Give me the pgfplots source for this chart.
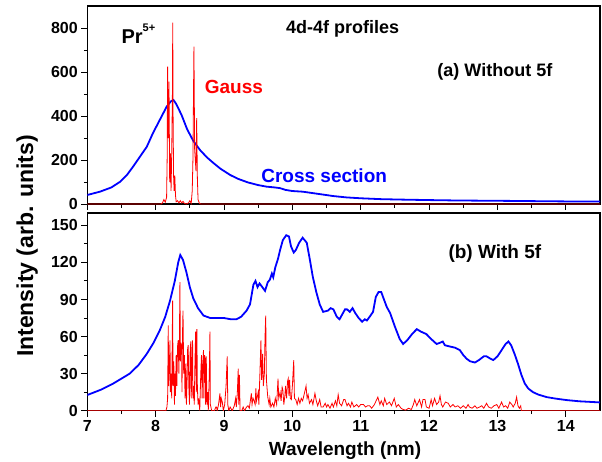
\documentclass[border=0pt]{standalone}
\usepackage{fontspec}
\setmainfont{Liberation Sans}
\usepackage{pgfplots}
\pgfplotsset{compat=1.18}

\definecolor{cblue}{RGB}{0,0,255}
\definecolor{cred}{RGB}{255,0,0}

\pgfplotsset{
  panel/.style={
    scale only axis,
    width=512.7pt,
    xmin=7, xmax=14.5,
    xtick={7,...,14}, minor x tick num=1, minor y tick num=1,
    tick align=outside, xtick pos=left, ytick pos=left,
    axis line style={line width=1.1pt},
    major tick length=6pt, minor tick length=3.5pt,
    every tick/.style={black, line width=1pt},
    tick label style={font=\fontsize{16}{18}\selectfont\bfseries},
    /pgf/number format/assume math mode=true,
  },
  cs/.style={cblue, line width=1.8pt},
  gs/.style={cred, line width=0.8pt},
}

\begin{document}
\begin{tikzpicture}
% (b) with 5f
\begin{axis}[panel, height=197.7pt, ymin=0, ymax=160, ytick={0,30,...,150}]
\addplot[cs] coordinates {
(7.0,12.7) (7.2,17) (7.38,22) (7.5,26) (7.62,30) (7.75,37) (7.87,46) (7.97,55)
(8.06,65) (8.14,76) (8.21,89) (8.28,105) (8.33,120) (8.36,126) (8.40,122)
(8.45,112) (8.50,100) (8.55,91) (8.62,83) (8.70,77) (8.80,75) (8.90,75)
(9.0,75) (9.10,74) (9.18,74) (9.25,76) (9.33,81) (9.38,86) (9.43,102)
(9.46,105) (9.49,100) (9.52,103) (9.56,100) (9.60,97) (9.64,104) (9.67,106)
(9.70,111) (9.72,108) (9.75,116) (9.79,123) (9.82,130) (9.86,138) (9.91,142)
(9.95,141) (9.98,133) (10.02,128) (10.05,130) (10.10,136) (10.15,140)
(10.18,138) (10.21,136) (10.25,124) (10.30,108) (10.35,96) (10.40,86)
(10.45,80) (10.52,81) (10.56,83) (10.60,82) (10.65,76) (10.69,74) (10.73,78)
(10.77,82) (10.80,82) (10.84,80) (10.88,83) (10.92,79) (10.97,75) (11.02,72)
(11.06,74) (11.09,73) (11.13,76) (11.18,80) (11.22,92) (11.26,96) (11.30,96)
(11.34,90) (11.38,84) (11.43,79) (11.50,68) (11.57,58) (11.62,54) (11.68,57)
(11.75,62) (11.82,66) (11.88,64) (11.96,62) (12.03,58) (12.11,54) (12.16,55)
(12.20,56) (12.23,53) (12.30,52) (12.38,51) (12.45,49) (12.50,45) (12.55,42)
(12.60,40) (12.67,39) (12.73,41) (12.80,44) (12.84,44) (12.90,42) (12.94,41)
(13.0,44) (13.06,49) (13.12,54) (13.16,56) (13.20,53) (13.25,46) (13.30,38)
(13.35,29) (13.40,22) (13.45,18) (13.52,15) (13.60,13) (13.72,11) (13.85,9.8)
(14.01,8.6) (14.2,7.6) (14.47,6.8) (14.5,6.7)
};
\addplot[gs] coordinates {
(7.0,0) (8.15,0) (8.165,3) (8.175,10) (8.184,69) (8.19,20) (8.20,35) (8.21,57)
(8.215,15) (8.225,30) (8.235,10) (8.248,89) (8.255,20) (8.265,40) (8.275,5)
(8.28,30) (8.29,12) (8.30,45) (8.31,20) (8.32,52) (8.33,57) (8.34,30)
(8.348,60) (8.355,104) (8.362,40) (8.37,55) (8.38,49) (8.385,15) (8.392,60)
(8.40,81) (8.41,30) (8.42,45) (8.43,10) (8.44,38) (8.45,5) (8.46,25)
(8.468,50) (8.476,53) (8.485,20) (8.495,5) (8.505,50) (8.515,56) (8.52,10)
(8.53,35) (8.54,57) (8.545,10) (8.555,20) (8.565,5) (8.575,40) (8.585,64)
(8.595,15) (8.603,66) (8.61,20) (8.62,5) (8.63,10) (8.645,0) (8.66,30)
(8.67,45) (8.68,10) (8.69,40) (8.70,49) (8.705,10) (8.715,45) (8.725,42)
(8.73,5) (8.74,44) (8.75,5) (8.76,15) (8.77,0) (8.785,30) (8.794,64) (8.80,5)
(8.82,0) (8.86,0) (8.88,3) (8.89,3) (8.90,0) (8.92,5) (8.94,14) (8.95,3)
(8.96,10) (8.975,7) (8.99,0) (9.01,5) (9.03,20) (9.047,44) (9.055,5) (9.07,0)
(9.09,3) (9.12,0) (9.15,4) (9.17,10) (9.18,3) (9.195,15) (9.208,34) (9.215,5)
(9.225,29) (9.235,0) (9.26,0) (9.28,3) (9.30,0) (9.33,3) (9.35,4) (9.37,2)
(9.40,14) (9.41,5) (9.425,10) (9.44,8) (9.455,5) (9.466,18) (9.475,8)
(9.49,12) (9.50,15) (9.51,5) (9.525,30) (9.54,57) (9.55,25) (9.565,46)
(9.575,20) (9.59,30) (9.60,60) (9.61,77) (9.62,25) (9.64,11) (9.66,5)
(9.67,10) (9.685,3) (9.71,6) (9.73,3) (9.75,10) (9.77,5) (9.79,26) (9.80,10)
(9.82,15) (9.835,8) (9.85,19) (9.86,17) (9.875,5) (9.89,12) (9.90,20)
(9.915,10) (9.93,24) (9.94,26) (9.95,12) (9.96,25) (9.97,10) (9.985,9)
(10.0,20) (10.02,41) (10.03,10) (10.05,9) (10.07,5) (10.09,10) (10.11,6)
(10.13,10) (10.15,8) (10.18,15) (10.20,20) (10.215,10) (10.23,13) (10.25,6)
(10.28,9) (10.30,5) (10.33,14) (10.35,8) (10.37,4) (10.40,9) (10.42,3)
(10.45,3) (10.48,6) (10.50,3) (10.52,5) (10.55,2) (10.58,6) (10.60,3)
(10.63,8) (10.65,4) (10.67,13) (10.69,6) (10.72,4) (10.75,9) (10.77,9)
(10.80,4) (10.82,6) (10.85,3) (10.87,7) (10.90,3) (10.94,5) (10.97,3)
(11.0,5) (11.04,5) (11.07,3) (11.10,4) (11.13,4) (11.16,2) (11.20,5)
(11.25,11) (11.28,5) (11.30,8) (11.33,4) (11.35,10) (11.38,5) (11.42,7)
(11.45,4) (11.49,10) (11.52,3) (11.55,5) (11.59,2) (11.62,1) (11.66,0.5)
(11.70,2) (11.74,1) (11.77,5) (11.79,9) (11.82,4) (11.86,9) (11.89,3)
(11.91,9) (11.94,9) (11.96,3) (12.0,2) (12.03,9) (12.05,4) (12.08,10)
(12.11,5) (12.14,7) (12.16,12) (12.18,5) (12.2,3) (12.24,7) (12.28,6)
(12.31,3) (12.35,5) (12.38,3) (12.42,4) (12.46,2) (12.5,4) (12.54,2)
(12.57,5) (12.59,3) (12.63,2) (12.67,4) (12.70,2) (12.74,3) (12.77,4)
(12.8,2) (12.84,6) (12.87,3) (12.91,2) (12.95,4) (12.99,5) (13.02,2)
(13.06,7) (13.09,3) (13.12,4) (13.15,2) (13.18,7) (13.21,5) (13.23,3)
(13.26,6) (13.28,11) (13.30,4) (13.32,2) (13.34,4) (13.35,0) (14.5,0)
};
\node[font=\fontsize{19}{22}\selectfont\bfseries] at (rel axis cs:0.795,0.793) {(b) With 5f};
\end{axis}
% (a) without 5f
\begin{axis}[panel, at={(0,206.7pt)}, height=198pt, ymin=0, ymax=900,
  ytick={0,200,...,800}, xticklabels=\empty]
\addplot[cs] coordinates {
(7.0,41) (7.185,56) (7.35,75) (7.48,101) (7.58,132) (7.67,170) (7.77,215)
(7.87,260) (7.96,322) (8.06,382) (8.16,442) (8.22,466) (8.26,473) (8.30,455)
(8.38,404) (8.46,340) (8.55,287) (8.65,245) (8.75,212) (8.85,185) (8.95,160)
(9.09,132) (9.2,115) (9.35,98) (9.5,86) (9.62,79) (9.75,75) (9.82,72)
(9.9,64) (10.0,59) (10.15,56) (10.4,45) (10.6,36) (10.79,30) (11.0,26)
(11.3,22) (11.6,20) (11.96,18) (12.4,16) (12.8,15) (13.22,14) (13.7,12.5)
(14.1,11.5) (14.5,11)
};
\addplot[gs] coordinates {
(7.0,0) (8.08,0) (8.10,5) (8.12,20) (8.14,8) (8.16,30) (8.168,200)
(8.175,624) (8.185,300) (8.195,556) (8.205,100) (8.215,230) (8.225,60)
(8.235,230) (8.245,500) (8.25,824) (8.255,400) (8.262,130) (8.27,60)
(8.28,130) (8.29,40) (8.30,10) (8.32,15) (8.34,5) (8.36,15) (8.38,5)
(8.40,12) (8.42,3) (8.45,0) (8.48,5) (8.50,15) (8.52,3) (8.535,60)
(8.545,200) (8.56,715) (8.57,250) (8.58,200) (8.59,150) (8.60,390)
(8.61,120) (8.62,20) (8.64,3) (8.66,0) (14.5,0)
};
\node[font=\fontsize{20}{24}\selectfont\bfseries, anchor=base west] at (rel axis cs:0.06,0.813)
  {Pr\raisebox{0.6em}{\fontsize{11}{12}\selectfont 5+}};
\node[font=\fontsize{18}{22}\selectfont\bfseries] at (rel axis cs:0.498,0.884) {4d-4f profiles};
\node[font=\fontsize{18}{22}\selectfont\bfseries] at (rel axis cs:0.795,0.667) {(a) Without 5f};
\node[font=\fontsize{19}{22}\selectfont\bfseries, text=cred] at (rel axis cs:0.286,0.591) {Gauss};
\node[font=\fontsize{19}{22}\selectfont\bfseries, text=cblue] at (rel axis cs:0.462,0.141) {Cross section};
\end{axis}
\node[font=\fontsize{23}{26}\selectfont\bfseries, rotate=90] at (-60pt,164.7pt) {Intensity (arb. units)};
\node[font=\fontsize{19}{22}\selectfont\bfseries, anchor=base] at (257.7pt,-44.5pt) {Wavelength (nm)};
\pgfresetboundingbox
\path (-87.3pt,-50.3pt) rectangle (514.7pt,410.7pt);
\end{tikzpicture}
\end{document}
